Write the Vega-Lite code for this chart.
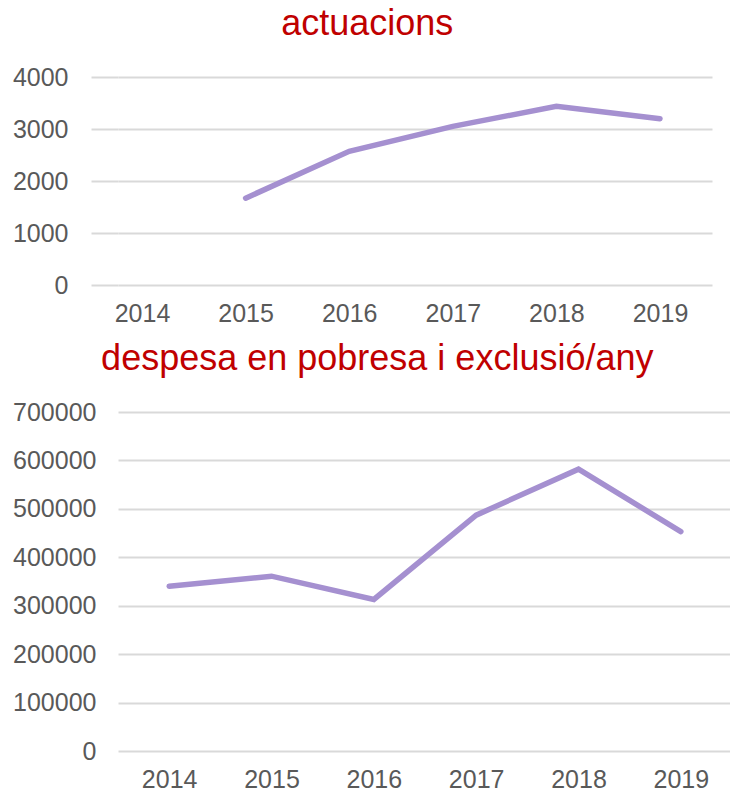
{
  "$schema": "https://vega.github.io/schema/vega-lite/v6.json",
  "padding": {"left": 12, "top": 6, "right": 0, "bottom": 0},
  "background": "white",
  "spacing": 15,
  "config": {
    "view": {"stroke": null},
    "font": "Liberation Sans",
    "title": {"font": "Liberation Sans", "fontSize": 36, "fontWeight": "normal", "color": "#C00000", "anchor": "middle", "frame": "bounds"},
    "axis": {"labelFont": "Liberation Sans", "labelFontSize": 25, "labelColor": "#595959", "domain": false, "ticks": false, "title": null}
  },
  "datasets": {
    "actuacions": [
      {"year": "2015", "value": 1670},
      {"year": "2016", "value": 2570},
      {"year": "2017", "value": 3050},
      {"year": "2018", "value": 3436},
      {"year": "2019", "value": 3198}
    ],
    "despesa": [
      {"year": "2014", "value": 340000},
      {"year": "2015", "value": 361000},
      {"year": "2016", "value": 313000},
      {"year": "2017", "value": 487000},
      {"year": "2018", "value": 582000},
      {"year": "2019", "value": 453000}
    ]
  },
  "vconcat": [
    {
      "title": {"text": "actuacions", "offset": 22, "dx": 5},
      "width": 594,
      "height": 208,
      "data": {"name": "actuacions"},
      "mark": {"type": "line", "color": "#A590D0", "strokeWidth": 5.5, "strokeCap": "round", "strokeJoin": "miter"},
      "encoding": {
        "x": {"field": "year", "type": "ordinal", "scale": {"type": "point", "domain": ["2014", "2015", "2016", "2017", "2018", "2019"], "padding": 0.367, "align": 0.316}, "axis": {"labelAngle": 0, "grid": false, "labelPadding": 16}},
        "y": {"field": "value", "type": "quantitative", "scale": {"domain": [0, 4000]}, "axis": {"values": [0, 1000, 2000, 3000, 4000], "format": "d", "grid": true, "gridColor": "#D9D9D9", "gridWidth": 2, "ticks": true, "tickSize": 27, "tickColor": "#D9D9D9", "tickWidth": 2, "labelPadding": 23}}
      }
    },
    {
      "title": {"text": "despesa en pobresa i exclusió/any", "offset": 22, "dx": 5},
      "width": 614,
      "height": 339,
      "data": {"name": "despesa"},
      "mark": {"type": "line", "color": "#A590D0", "strokeWidth": 5.5, "strokeCap": "round", "strokeJoin": "miter"},
      "encoding": {
        "x": {"field": "year", "type": "ordinal", "scale": {"domain": ["2014", "2015", "2016", "2017", "2018", "2019"]}, "axis": {"labelAngle": 0, "grid": false, "labelPadding": 16}},
        "y": {"field": "value", "type": "quantitative", "scale": {"domain": [0, 700000]}, "axis": {"values": [0, 100000, 200000, 300000, 400000, 500000, 600000, 700000], "format": "d", "grid": true, "gridColor": "#D9D9D9", "gridWidth": 2, "labelPadding": 22}}
      }
    }
  ]
}
